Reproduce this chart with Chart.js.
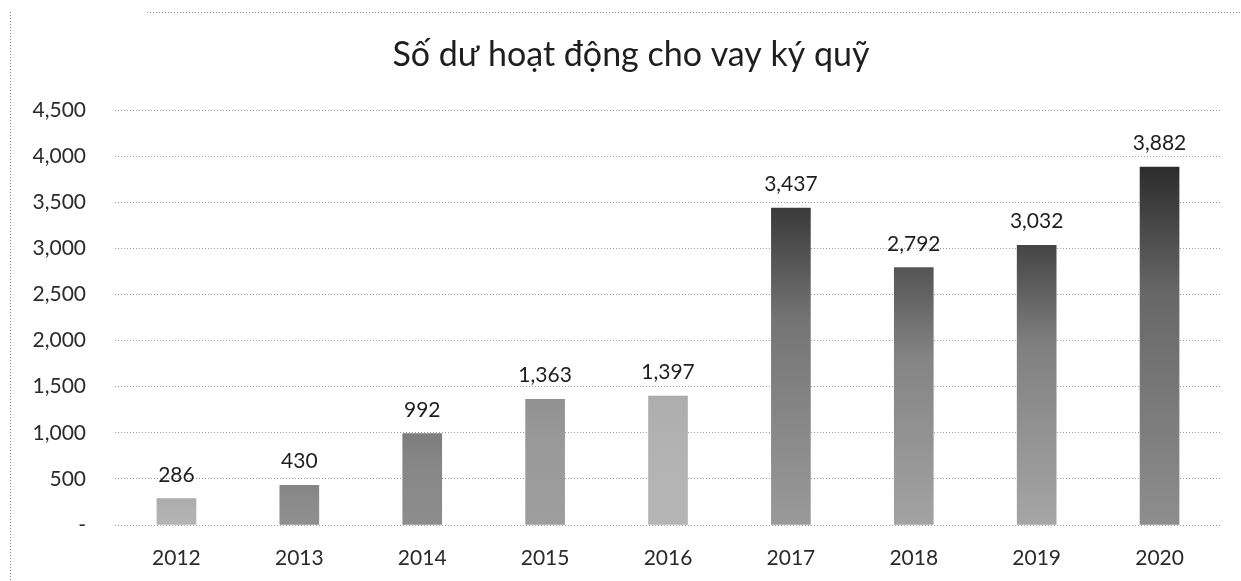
<!DOCTYPE html>
<html>
<head>
<meta charset="utf-8">
<script src="https://cdn.jsdelivr.net/npm/chart.js@4"></script>
<style>
  html, body { margin: 0; padding: 0; background: #fff; }
  #wrap { width: 1241px; height: 581px; }
</style>
</head>
<body>
<div id="wrap"><canvas id="chart1" width="1241" height="581"></canvas></div>
<script>
const years = ["2012", "2013", "2014", "2015", "2016", "2017", "2018", "2019", "2020"];
const balances = [286, 430, 992, 1363, 1397, 3437, 2792, 3032, 3882];
const yTicks = [0, 500, 1000, 1500, 2000, 2500, 3000, 3500, 4000, 4500];
const title = "Số dư hoạt động cho vay ký quỹ";

// shades for each bar: [top, bottom] (scanned greyscale look)
const shades = [
  ["#ababab", "#b3b3b3"],
  ["#858585", "#8f8f8f"],
  ["#7d7d7d", "#8d8d8d"],
  ["#929292", "#9e9e9e"],
  ["#adadad", "#b5b5b5"],
  ["#3a3a3a", "#9a9a9a"],
  ["#555555", "#a3a3a3"],
  ["#454545", "#a6a6a6"],
  ["#2c2c2c", "#8e8e8e"],
];

const font = "Lato, 'Open Sans', sans-serif";

const chart1 = () => {
  const canvas = document.getElementById("chart1");
  const ctx = canvas.getContext("2d");

  // dotted frame of the scanned page + the title (sits a bit off the canvas centre)
  const frame = {
    id: "frame",
    beforeDraw(chart) {
      const c = chart.ctx;
      c.save();
      c.strokeStyle = "#8a8a8a";
      c.lineWidth = 1;
      c.setLineDash([1, 2]);
      c.beginPath();
      c.moveTo(147, 12.5);
      c.lineTo(1241, 12.5);
      c.moveTo(10.5, 12);
      c.lineTo(10.5, 581);
      c.stroke();
      c.restore();

      c.save();
      c.font = "34px " + font;
      c.fillStyle = "#1e1e1e";
      c.textAlign = "center";
      c.textBaseline = "alphabetic";
      c.fillText(title, 631, 66);
      c.restore();
    },
  };

  const valueLabels = {
    id: "valueLabels",
    afterDatasetsDraw(chart) {
      const c = chart.ctx;
      const meta = chart.getDatasetMeta(0);
      c.save();
      c.font = "21px " + font;
      c.fillStyle = "#1e1e1e";
      c.textAlign = "center";
      c.textBaseline = "alphabetic";
      meta.data.forEach((bar, i) => {
        c.fillText(balances[i].toLocaleString("en-US"), bar.x, bar.y - 17);
      });
      c.restore();
    },
  };

  new Chart(ctx, {
    type: "bar",
    data: {
      labels: years,
      datasets: [
        {
          label: title,
          data: balances,
          backgroundColor: (context) => {
            const chart = context.chart;
            const area = chart.chartArea;
            const i = context.dataIndex;
            if (!area || context.type !== "data") return shades[i][1];
            const top = chart.scales.y.getPixelForValue(balances[i]);
            const g = chart.ctx.createLinearGradient(0, top, 0, area.bottom);
            g.addColorStop(0, shades[i][0]);
            g.addColorStop(0.35, mix(shades[i][0], shades[i][1], 0.6));
            g.addColorStop(1, shades[i][1]);
            return g;
          },
          borderWidth: 0,
          barThickness: 39,
        },
      ],
    },
    options: {
      responsive: false,
      animation: false,
      layout: {
        padding: { left: 10, right: 20, top: 110, bottom: 0 },
      },
      plugins: {
        legend: { display: false },
        tooltip: { enabled: false },
        title: { display: false },
      },
      scales: {
        x: {
          grid: { display: false },
          border: { display: false },
          ticks: {
            color: "#2a2a2a",
            font: { family: font, size: 21 },
            padding: 13,
          },
          afterFit: (scale) => { scale.height = 56; },
        },
        y: {
          min: 0,
          max: 4500,
          afterBuildTicks: (scale) => {
            scale.ticks = yTicks.map((v) => ({ value: v }));
          },
          grid: {
            color: "#9a9a9a",
            lineWidth: 1,
            drawTicks: false,
          },
          border: { display: false, dash: [1, 2] },
          ticks: {
            color: "#2a2a2a",
            font: { family: font, size: 21 },
            padding: 29,
            callback: (v) => (v === 0 ? "-" : v.toLocaleString("en-US")),
          },
          afterFit: (scale) => { scale.width = 105; },
        },
      },
    },
    plugins: [frame, valueLabels],
  });
};

function mix(a, b, t) {
  const pa = parseInt(a.slice(1), 16), pb = parseInt(b.slice(1), 16);
  const ch = (p, s) => (p >> s) & 255;
  const m = [16, 8, 0].map((s) => Math.round(ch(pa, s) * (1 - t) + ch(pb, s) * t));
  return "rgb(" + m.join(",") + ")";
}

(function () {
  chart1();
})();
</script>
</body>
</html>
